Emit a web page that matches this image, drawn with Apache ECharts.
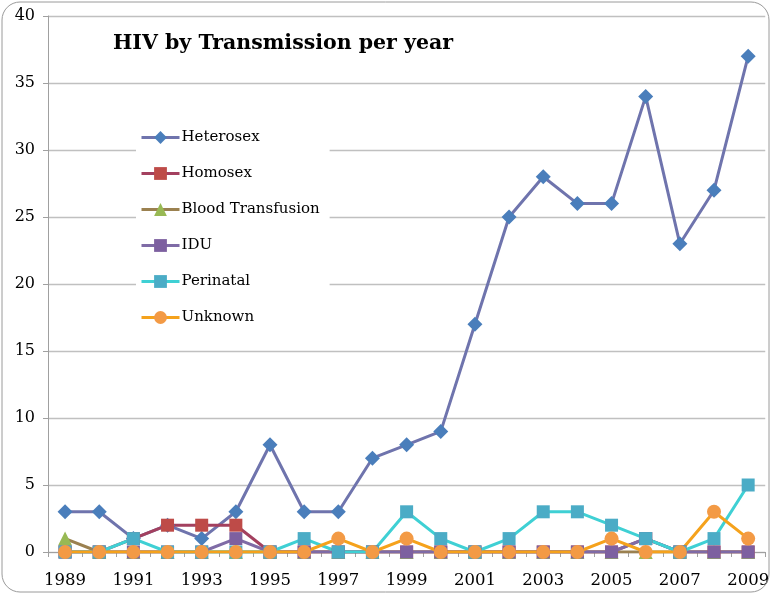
<!DOCTYPE html>
<html><head><meta charset="utf-8">
<script src="https://cdn.jsdelivr.net/npm/echarts@6/dist/echarts.min.js"></script>
<style>html,body{margin:0;padding:0;background:#fff}#c{width:772px;height:597px}</style>
</head><body><div id="c"></div>
<script>
const years = ['1989','1990','1991','1992','1993','1994','1995','1996','1997','1998','1999','2000','2001','2002','2003','2004','2005','2006','2007','2008','2009'];
const heterosex = [3,3,1,2,1,3,8,3,3,7,8,9,17,25,28,26,26,34,23,27,37];
const homosex   = [0,0,1,2,2,2,0,0,0,0,0,0,0,0,0,0,0,1,0,0,0];
const blood     = [1,0,0,0,0,0,0,0,0,0,0,0,0,0,0,0,0,0,0,0,0];
const idu       = [0,0,0,0,0,1,0,0,0,0,0,0,0,0,0,0,0,1,0,0,0];
const perinatal = [0,0,1,0,0,0,0,1,0,0,3,1,0,1,3,3,2,1,0,1,5];
const unknown   = [0,0,0,0,0,0,0,0,1,0,1,0,0,0,0,0,1,0,0,3,1];
const seriesNames = ['Heterosex','Homosex','Blood Transfusion','IDU','Perinatal','Unknown'];
const yTicks = [0,5,10,15,20,25,30,35,40];

const font = 'DejaVu Serif';
function mk(name, data, lineColor, markColor, symbol, size) {
  return {
    name, type: 'line', data, symbol, symbolSize: size,
    lineStyle: { color: lineColor, width: 3 },
    itemStyle: { color: markColor },
    emphasis: { disabled: true }, animation: false, z: 2
  };
}
const chart = echarts.init(document.getElementById('c'), null, { renderer: 'canvas' });
chart.setOption({
  animation: false,
  backgroundColor: '#fff',
  graphic: [{
    type: 'rect', shape: { x: 2, y: 2, width: 767, height: 590, r: 18 },
    style: { fill: 'none', stroke: '#9a9a9a', lineWidth: 1 }, z: 100, silent: true
  }],
  title: {
    text: 'HIV by Transmission per year', left: 108, top: 28,
    textStyle: { fontFamily: font, fontWeight: 'bold', fontSize: 20.5, color: '#000' }
  },
  legend: {
    orient: 'vertical', left: 136, top: 124,
    backgroundColor: '#fff', padding: [6, 10, 6, 4],
    itemGap: 21, itemWidth: 38, itemHeight: 16,
    lineStyle: { width: 3 },
    textStyle: { fontFamily: font, fontSize: 15, color: '#000', padding: [0, 0, 0, -3] },
    data: seriesNames.map(n => ({ name: n, lineStyle: { width: 3 } }))
  },
  grid: { left: 48, right: 0, top: 16, bottom: 45 },
  xAxis: {
    type: 'category', data: years, boundaryGap: true,
    axisLine: { lineStyle: { color: '#a0a0a0', width: 1 } },
    axisTick: { show: true, interval: 0, length: 5, lineStyle: { color: '#a0a0a0' } },
    axisLabel: { interval: 1, fontFamily: font, fontSize: 16.5, color: '#000', margin: 20 }
  },
  yAxis: {
    type: 'value', min: 0, max: 40, interval: 5,
    axisLine: { show: true, lineStyle: { color: '#a0a0a0', width: 1 } },
    axisTick: { show: true, length: 5, lineStyle: { color: '#a0a0a0' } },
    splitLine: { lineStyle: { color: '#c0c0c0', width: 1.3 } },
    axisLabel: { fontFamily: font, fontSize: 16, color: '#000', margin: 13,
      formatter: v => yTicks.includes(v) ? String(v) : '' }
  },
  series: [
    mk(seriesNames[0], heterosex, '#6f74ad', '#4a7ebb', 'diamond', 15),
    mk(seriesNames[1], homosex, '#a3405f', '#be4b48', 'rect', 13),
    mk(seriesNames[2], blood, '#9b8150', '#98b954', 'triangle', 14),
    mk(seriesNames[3], idu, '#7f6ba6', '#7d60a0', 'rect', 13),
    mk(seriesNames[4], perinatal, '#3fd0d4', '#4bacc6', 'rect', 13),
    mk(seriesNames[5], unknown, '#f5a21c', '#f39a45', 'circle', 14)
  ]
});
</script></body></html>
